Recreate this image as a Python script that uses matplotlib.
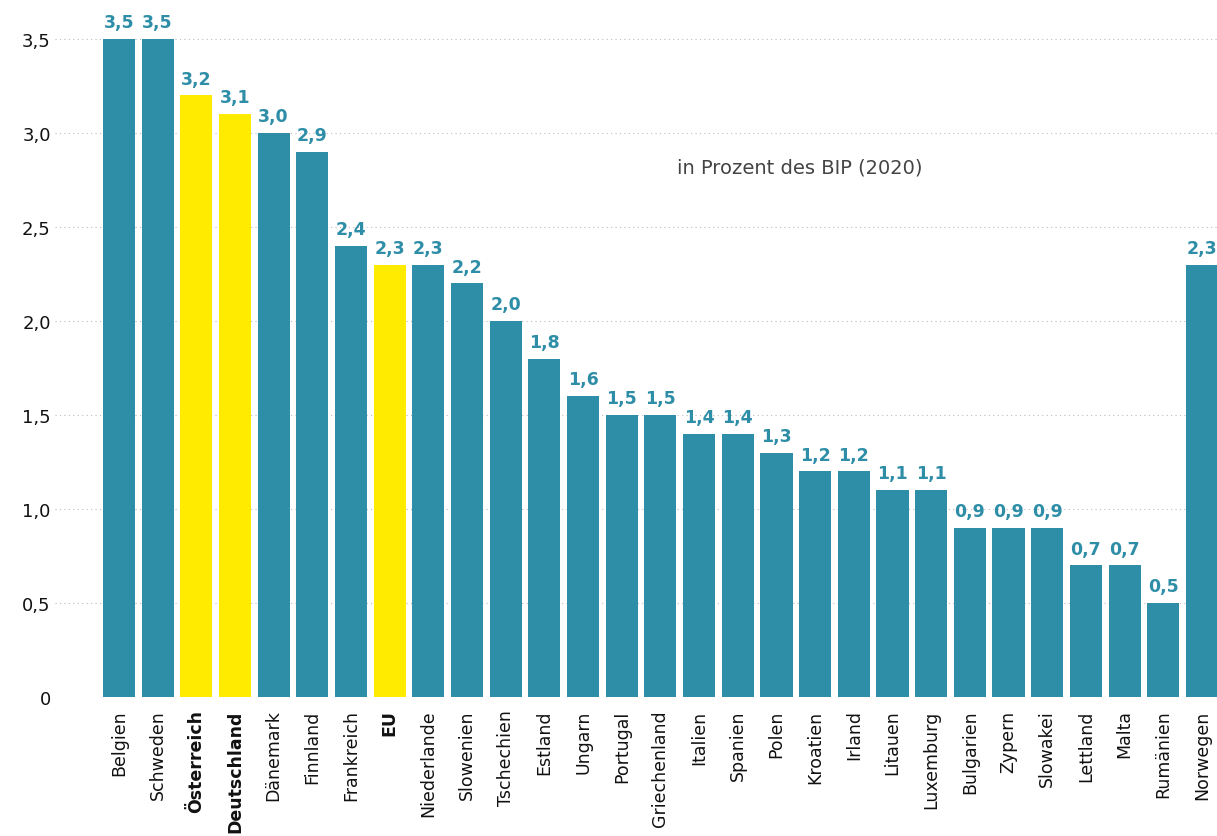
import matplotlib
matplotlib.use("Agg")
import matplotlib.pyplot as plt

countries = ["Belgien", "Schweden", "Österreich", "Deutschland", "Dänemark", "Finnland",
             "Frankreich", "EU", "Niederlande", "Slowenien", "Tschechien", "Estland",
             "Ungarn", "Portugal", "Griechenland", "Italien", "Spanien", "Polen",
             "Kroatien", "Irland", "Litauen", "Luxemburg", "Bulgarien", "Zypern",
             "Slowakei", "Lettland", "Malta", "Rumänien", "Norwegen"]
values = [3.5, 3.5, 3.2, 3.1, 3.0, 2.9, 2.4, 2.3, 2.3, 2.2, 2.0, 1.8, 1.6, 1.5, 1.5,
          1.4, 1.4, 1.3, 1.2, 1.2, 1.1, 1.1, 0.9, 0.9, 0.9, 0.7, 0.7, 0.5, 2.3]
highlight = ["Österreich", "Deutschland", "EU"]
yticks = [0, 0.5, 1.0, 1.5, 2.0, 2.5, 3.0, 3.5]
ytick_labels = ["0", "0,5", "1,0", "1,5", "2,0", "2,5", "3,0", "3,5"]
note = "in Prozent des BIP (2020)"

TEAL = "#2f8ea7"
YELLOW = "#ffeb00"

plt.rcParams['font.family'] = ['DejaVu Sans']

fig = plt.figure(figsize=(12.17, 8.37), dpi=100)
W, H = 1217, 837
ax = fig.add_axes([55 / W, (H - 698) / H, (1217 - 55) / W, 698 / H])

x = list(range(len(countries)))
colors = [YELLOW if c in highlight else TEAL for c in countries]
ax.bar(x, values, width=0.83, color=colors, zorder=2)

for xi, v in zip(x, values):
    ax.annotate(f"{v:.1f}".replace(".", ","), (xi, v), xytext=(0, 8.5),
                textcoords="offset points", ha="center", va="baseline",
                fontsize=12.5, fontweight="bold", color=TEAL, clip_on=False)

ax.set_xlim(-1.654, 28.39)
ax.set_ylim(0, 3.713)
ax.set_yticks(yticks)
ax.set_yticklabels(ytick_labels, fontsize=13, color="#111111")
ax.set_xticks(x)
ax.set_xticklabels(countries, rotation=90, fontsize=12.5, color="#111111",
                   ha="center", va="top")
for lbl in ax.get_xticklabels():
    if lbl.get_text() in highlight:
        lbl.set_fontweight("bold")
ax.tick_params(axis="both", length=0)
ax.tick_params(axis="x", pad=9)
ax.tick_params(axis="y", pad=3)

ax.yaxis.grid(True, linestyle=(0, (1, 3)), color="#bbbbbb", linewidth=0.8, zorder=0)
ax.set_axisbelow(True)
for s in ax.spines.values():
    s.set_visible(False)

ax.text(800 / W, (H - 168) / H, note, transform=fig.transFigure, ha="center",
        va="center", fontsize=14, color="#444444")

fig.savefig("out.png", dpi=100)
